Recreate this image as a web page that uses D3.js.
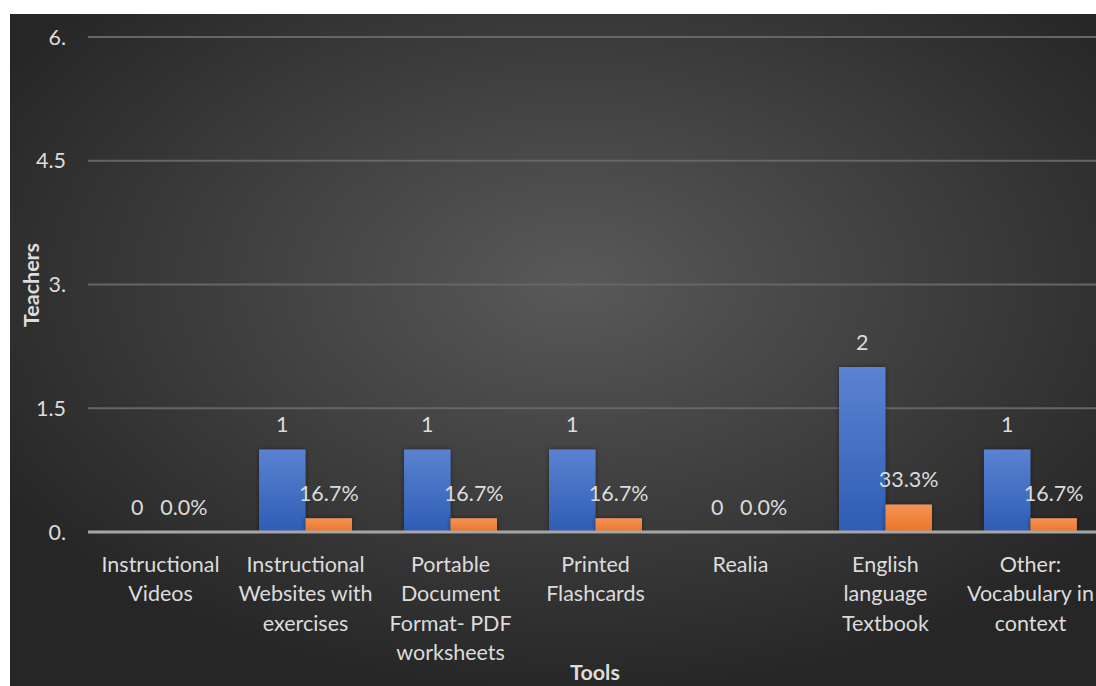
<!DOCTYPE html>
<html><head><meta charset="utf-8">
<script src="https://cdn.jsdelivr.net/npm/d3@7"></script>
<style>body{margin:0;background:#fff;}svg{display:block;}</style>
</head><body>
<script>
const categories = [
  "Instructional\nVideos",
  "Instructional\nWebsites with\nexercises",
  "Portable\nDocument\nFormat- PDF\nworksheets",
  "Printed\nFlashcards",
  "Realia",
  "English\nlanguage\nTextbook",
  "Other:\nVocabulary in\ncontext"
];
const teachers = [0, 1, 1, 1, 0, 2, 1];
const percentages = [0, 0.167, 0.167, 0.167, 0, 0.333, 0.167];
const yTicks = [0, 1.5, 3, 4.5, 6];
const yTickLabels = ["0.", "1.5", "3.", "4.5", "6."];
const seriesNames = ["teachers", "percent"];

const W = 1096, H = 686;
const font = "Lato, 'Open Sans', sans-serif";
const fs = "21.5px";
const txt = "#dcdcdc";
const svg = d3.select("body").append("svg").attr("width", W).attr("height", H);
const defs = svg.append("defs");

const bg = defs.append("radialGradient").attr("id", "bg")
  .attr("cx", "0.52").attr("cy", "0.4").attr("r", "0.62");
bg.append("stop").attr("offset", "0").attr("stop-color", "#595959");
bg.append("stop").attr("offset", "1").attr("stop-color", "#262626");

const gBlue = defs.append("linearGradient").attr("id", "gBlue").attr("x1",0).attr("y1",0).attr("x2",0).attr("y2",1);
gBlue.append("stop").attr("offset","0").attr("stop-color","#5b82d2");
gBlue.append("stop").attr("offset","1").attr("stop-color","#2e5db4");
const gOr = defs.append("linearGradient").attr("id", "gOr").attr("x1",0).attr("y1",0).attr("x2",0).attr("y2",1);
gOr.append("stop").attr("offset","0").attr("stop-color","#f3935a");
gOr.append("stop").attr("offset","1").attr("stop-color","#ec7522");

const shadow = defs.append("filter").attr("id","sh").attr("x","-20%").attr("y","-20%").attr("width","140%").attr("height","140%");
shadow.append("feDropShadow").attr("dx",0).attr("dy",0).attr("stdDeviation",2.5).attr("flood-color","#000").attr("flood-opacity",0.45);

svg.append("rect").attr("x", 10).attr("y", 14).attr("width", W - 10).attr("height", H - 14).attr("fill", "url(#bg)");

const x0 = 88, step = 145;
const x = d3.scaleBand().domain(d3.range(categories.length))
  .range([x0, x0 + step * categories.length]).paddingInner(0.359).paddingOuter(0.18);
const xs = d3.scaleBand().domain(seriesNames).range([0, x.bandwidth()]);
const y = d3.scaleLinear().domain([0, 6]).range([532, 37]);

// grid
svg.append("g").selectAll("line").data(yTicks.filter(d => d > 0)).join("line")
  .attr("x1", x0).attr("x2", W).attr("y1", d => y(d)).attr("y2", d => y(d))
  .attr("stroke", "#666666").attr("stroke-width", 2);

// y tick labels
svg.append("g").selectAll("text").data(yTicks).join("text")
  .attr("x", 66).attr("y", d => y(d)).attr("dy", "0.35em")
  .attr("text-anchor", "end").attr("fill", txt)
  .style("font", `${fs} ${font}`).text((d, i) => yTickLabels[i]);

// bars
const groups = svg.append("g").selectAll("g").data(categories).join("g")
  .attr("transform", (d, i) => `translate(${x(i)},0)`);
groups.append("rect").attr("x", xs("teachers")).attr("width", xs.bandwidth())
  .attr("y", (d, i) => y(teachers[i])).attr("height", (d, i) => y(0) - y(teachers[i]))
  .attr("fill", "url(#gBlue)").attr("filter", "url(#sh)");
groups.append("rect").attr("x", xs("percent")).attr("width", xs.bandwidth())
  .attr("y", (d, i) => y(percentages[i])).attr("height", (d, i) => y(0) - y(percentages[i]))
  .attr("fill", "url(#gOr)").attr("filter", "url(#sh)");

// zero axis line
svg.append("line").attr("x1", x0).attr("x2", W).attr("y1", y(0)).attr("y2", y(0))
  .attr("stroke", "#a6a6a6").attr("stroke-width", 3);

// data labels
groups.append("text").attr("x", xs("teachers") + xs.bandwidth() / 2)
  .attr("y", (d, i) => y(teachers[i]) - 25).attr("dy", "0.35em")
  .attr("text-anchor", "middle").attr("fill", txt).style("font", `${fs} ${font}`)
  .text((d, i) => teachers[i]);
groups.append("text").attr("x", xs("percent") + xs.bandwidth() / 2)
  .attr("y", (d, i) => y(percentages[i]) - 25).attr("dy", "0.35em")
  .attr("text-anchor", "middle").attr("fill", txt).style("font", `${fs} ${font}`)
  .text((d, i) => d3.format(".1%")(percentages[i]));

// category labels
groups.append("text").attr("x", x.bandwidth() / 2).attr("y", 564).attr("text-anchor", "middle")
  .attr("fill", txt).style("font", `${fs} ${font}`)
  .each(function(d) {
    const t = d3.select(this);
    d.split("\n").forEach((line, k) => {
      t.append("tspan").attr("x", x.bandwidth() / 2).attr("y", 564 + k * 29.5).attr("dy", "0.35em").text(line);
    });
  });

// axis titles
svg.append("text").attr("transform", `translate(31,285) rotate(-90)`)
  .attr("text-anchor", "middle").attr("dy", "0.35em").attr("fill", txt)
  .style("font", `bold ${fs} ${font}`).text("Teachers");
svg.append("text").attr("x", 595).attr("y", 672).attr("dy", "0.35em")
  .attr("text-anchor", "middle").attr("fill", txt)
  .style("font", `bold ${fs} ${font}`).text("Tools");
</script>
</body></html>
